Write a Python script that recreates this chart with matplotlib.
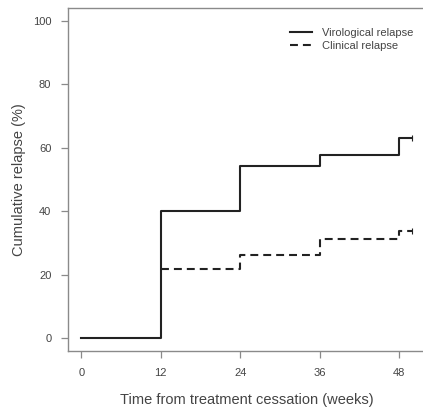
import matplotlib
matplotlib.use("Agg")
import matplotlib.pyplot as plt

# step data (weeks, cumulative %)
viro_weeks = [0, 12, 24, 36, 48, 50]
viro_pct = [0.0, 40.2, 54.4, 57.6, 63.1, 63.1]
clin_weeks = [12, 24, 36, 48, 50]
clin_pct = [21.7, 26.1, 31.4, 33.7, 33.7]
x_ticks = [0, 12, 24, 36, 48]
y_ticks = [0, 20, 40, 60, 80, 100]

plt.rcParams["font.family"] = ["Liberation Sans", "DejaVu Sans"]
text_col = "#444444"
axis_col = "#8a8a8a"
line_col = "#222222"

W, H = 423, 409
fig = plt.figure(figsize=(W / 100, H / 100), dpi=100)
# axes box in pixels: left 68, right 425.5, top 8, bottom 351
ax = fig.add_axes([68 / W, (H - 351) / H, (425.5 - 68) / W, (351 - 8) / H])

ax.step(viro_weeks, viro_pct, where="post", color=line_col, lw=1.5,
        label="Virological relapse")
ax.step(clin_weeks, clin_pct, where="post", color=line_col, lw=1.5,
        dashes=(3.8, 2.4), label="Clinical relapse")
# censor marks at end of follow-up
ax.plot([viro_weeks[-1]], [viro_pct[-1]], marker="|", ms=5, mew=0.8, color=line_col)
ax.plot([clin_weeks[-1]], [clin_pct[-1]], marker="|", ms=5, mew=0.8, color=line_col)

ax.set_xlim(-2, 52)
ax.set_ylim(-4, 104)
ax.set_xticks(x_ticks)
ax.set_yticks(y_ticks)
ax.tick_params(direction="out", length=5, width=0.9, color=axis_col,
               labelcolor=text_col, labelsize=8, pad=7)
for s in ax.spines.values():
    s.set_color(axis_col)
    s.set_linewidth(1.0)
ax.spines["right"].set_visible(False)

ax.set_xlabel("Time from treatment cessation (weeks)", fontsize=10.5,
              color=text_col, labelpad=11)
ax.set_ylabel("Cumulative relapse (%)", fontsize=10.5, color=text_col, labelpad=5)

leg = ax.legend(loc="upper right", bbox_to_anchor=(0.995, 0.97), frameon=False,
                fontsize=8, handlelength=2.0, handletextpad=0.9,
                labelspacing=0.25, labelcolor=text_col)

fig.savefig("out.png", dpi=100)
